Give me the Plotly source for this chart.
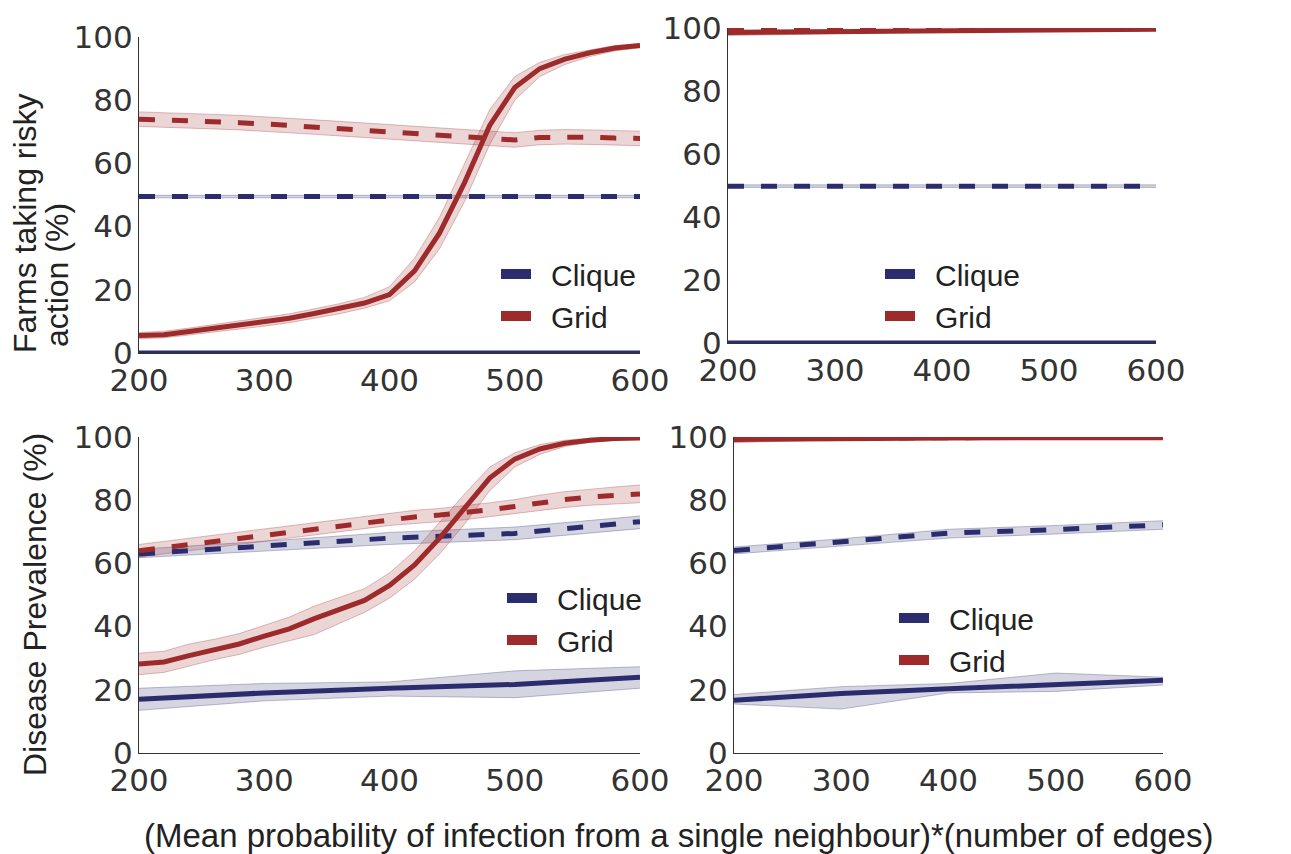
import plotly.graph_objects as go

# ---------------- data ----------------
X21 = [200, 220, 240, 260, 280, 300, 320, 340, 360, 380, 400,
       420, 440, 460, 480, 500, 520, 540, 560, 580, 600]
X5 = [200, 300, 400, 500, 600]

# Top-left: farms taking risky action
tl_grid_solid = [5.5, 5.8, 6.8, 7.8, 8.8, 9.8, 11, 12.5, 14, 15.8, 18.5, 26, 38, 54, 72, 84, 90, 93, 95, 96.5, 97.3]
tl_grid_solid_lo = [4.5, 4.8, 5.7, 6.6, 7.5, 8.5, 9.6, 11, 12.4, 14.2, 16.5, 22.5, 33, 48, 66, 80, 87.5, 91.3, 93.8, 95.6, 96.6]
tl_grid_solid_hi = [6.5, 6.9, 7.9, 9, 10, 11.1, 12.4, 14, 15.6, 17.6, 21, 30, 43, 60, 77, 87.5, 92, 94.5, 96, 97.3, 97.9]
tl_grid_dash = [74, 73.8, 73.5, 73.2, 72.9, 72.5, 72, 71.5, 71, 70.5, 70, 69.5, 69, 68.5, 68, 67.4, 68.2, 68.4, 68.3, 68, 67.9]
tl_grid_dash_lo = [71.7, 71.5, 71.2, 70.9, 70.6, 70.2, 69.7, 69.2, 68.7, 68.2, 67.7, 67.2, 66.7, 66.2, 65.7, 65.1, 65.9, 66.1, 66, 65.7, 65.6]
tl_grid_dash_hi = [76.3, 76.1, 75.8, 75.5, 75.2, 74.8, 74.3, 73.8, 73.3, 72.8, 72.3, 71.8, 71.3, 70.8, 70.3, 69.7, 70.5, 70.7, 70.6, 70.3, 70.2]
tl_clique_dash = [49.5, 49.5, 49.5, 49.5, 49.5]
tl_clique_dash_lo = [49.1, 49.1, 49.1, 49.1, 49.1]
tl_clique_dash_hi = [49.9, 49.9, 49.9, 49.9, 49.9]
tl_clique_solid = [0, 0, 0, 0, 0]

# Top-right
tr_grid_solid = [98.6, 98.9, 99.2, 99.4, 99.6]
tr_grid_solid_lo = [97.6, 98.3, 98.8, 99.1, 99.4]
tr_grid_solid_hi = [99.4, 99.5, 99.7, 99.8, 99.9]
tr_grid_dash = [99.2, 99.4, 99.6, 99.7, 99.8]
tr_clique_dash = [49.8, 49.8, 49.8, 49.8, 49.8]
tr_clique_dash_lo = [49.4, 49.4, 49.4, 49.4, 49.4]
tr_clique_dash_hi = [50.2, 50.2, 50.2, 50.2, 50.2]
tr_clique_solid = [0, 0, 0, 0, 0]

# Bottom-left: disease prevalence
bl_grid_solid = [28.2, 28.8, 30.8, 32.8, 34.5, 37, 39.3, 42.5, 45.3, 48.3, 53, 59.5, 68, 77.5, 87, 93, 96.2, 98, 99, 99.5, 99.7]
bl_grid_solid_lo = [24.8, 25.5, 27.5, 29.5, 31.2, 33.5, 35.5, 37.5, 41, 44.5, 49, 55, 63, 72.5, 83, 90.5, 94.5, 97, 98.3, 99, 99.3]
bl_grid_solid_hi = [31.6, 32.2, 34.5, 36, 37.8, 40.5, 43, 46.5, 49.3, 52, 57, 64, 73, 82, 90.5, 95, 97.6, 99, 99.6, 99.9, 100]
bl_grid_dash = [64, 65, 66, 67, 68, 69, 70, 71, 72, 73, 74, 74.7, 75.3, 76, 77, 78, 79.2, 80.2, 81, 81.5, 82]
bl_grid_dash_lo = [62, 63, 64, 65, 66, 67, 68, 69, 70, 71, 72, 72.6, 73.2, 73.8, 74.8, 75.8, 76.8, 77.7, 78.4, 78.8, 79.2]
bl_grid_dash_hi = [66, 67, 68, 69, 70, 71, 72, 73, 74, 75, 76, 76.8, 77.4, 78.2, 79.2, 80.2, 81.6, 82.7, 83.5, 84.2, 84.8]
bl_clique_dash = [63, 65.5, 68, 69.5, 73.2]
bl_clique_dash_lo = [61.8, 64, 66, 67.5, 71]
bl_clique_dash_hi = [64.5, 67, 69.8, 71.5, 75]
bl_clique_solid = [17, 19, 20.5, 21.7, 24]
bl_clique_solid_lo = [13.5, 16.5, 18, 17.5, 20.5]
bl_clique_solid_hi = [20.5, 22, 22.5, 26, 27.3]

# Bottom-right
br_grid_solid = [99.2, 99.6, 99.7, 99.8, 99.8]
br_grid_solid_lo = [98.2, 99.2, 99.4, 99.5, 99.6]
br_grid_solid_hi = [99.9, 100, 100, 100, 100]
br_grid_dash = [99.5, 99.7, 99.8, 99.9, 99.9]
br_clique_dash = [64.1, 66.7, 69.6, 70.7, 72.2]
br_clique_dash_lo = [63, 65.5, 68, 69.3, 70.8]
br_clique_dash_hi = [65.2, 67.8, 70.8, 72, 73.5]
br_clique_solid = [16.7, 18.8, 20.3, 21.6, 23]
br_clique_solid_lo = [15.5, 13.9, 19, 19.5, 21.5]
br_clique_solid_hi = [18.5, 21, 22, 25.3, 24]

x_ticks = [200, 300, 400, 500, 600]
y_ticks = [0, 20, 40, 60, 80, 100]
series_names = ["Clique", "Grid"]

# ---------------- style ----------------
NAVY = "#2b2c6e"
RED = "#9e2b2b"
NAVY_FILL = "rgba(43,44,110,0.2)"
RED_FILL = "rgba(158,43,43,0.2)"
NAVY_EDGE = "rgba(43,44,110,0.3)"
RED_EDGE = "rgba(158,43,43,0.3)"
LW = 5
DASH = "16px,17px"

W, H = 1291, 854
OFF = 8  # page body margin in the browser


def fx(px):
    return (px - OFF) / W


def fy(py):
    return 1 - (py - OFF) / H


fig = go.Figure()


def band(x, lo, hi, fill, edge, xa, ya):
    fig.add_trace(go.Scatter(x=x, y=lo, mode="lines", line=dict(color=edge, width=1),
                             xaxis=xa, yaxis=ya, showlegend=False, hoverinfo="skip"))
    fig.add_trace(go.Scatter(x=x, y=hi, mode="lines", line=dict(color=edge, width=1),
                             fill="tonexty", fillcolor=fill,
                             xaxis=xa, yaxis=ya, showlegend=False, hoverinfo="skip"))


def line(x, y, color, dash, xa, ya):
    fig.add_trace(go.Scatter(x=x, y=y, mode="lines",
                             line=dict(color=color, width=LW, dash=dash),
                             xaxis=xa, yaxis=ya, showlegend=False))


panels = [
    dict(xa="x", ya="y", lg="legend",
         bands=[(X5, tl_clique_dash_lo, tl_clique_dash_hi, "n"),
                (X21, tl_grid_dash_lo, tl_grid_dash_hi, "r"),
                (X21, tl_grid_solid_lo, tl_grid_solid_hi, "r")],
         lines=[(X5, tl_clique_dash, "n", "d"), (X5, tl_clique_solid, "n", "s"),
                (X21, tl_grid_dash, "r", "d"), (X21, tl_grid_solid, "r", "s")]),
    dict(xa="x2", ya="y2", lg="legend2",
         bands=[(X5, tr_clique_dash_lo, tr_clique_dash_hi, "n"),
                (X5, tr_grid_solid_lo, tr_grid_solid_hi, "r")],
         lines=[(X5, tr_clique_dash, "n", "d"), (X5, tr_clique_solid, "n", "s"),
                (X5, tr_grid_dash, "r", "d"), (X5, tr_grid_solid, "r", "s")]),
    dict(xa="x3", ya="y3", lg="legend3",
         bands=[(X5, bl_clique_dash_lo, bl_clique_dash_hi, "n"),
                (X5, bl_clique_solid_lo, bl_clique_solid_hi, "n"),
                (X21, bl_grid_dash_lo, bl_grid_dash_hi, "r"),
                (X21, bl_grid_solid_lo, bl_grid_solid_hi, "r")],
         lines=[(X5, bl_clique_dash, "n", "d"), (X5, bl_clique_solid, "n", "s"),
                (X21, bl_grid_dash, "r", "d"), (X21, bl_grid_solid, "r", "s")]),
    dict(xa="x4", ya="y4", lg="legend4",
         bands=[(X5, br_clique_dash_lo, br_clique_dash_hi, "n"),
                (X5, br_clique_solid_lo, br_clique_solid_hi, "n"),
                (X5, br_grid_solid_lo, br_grid_solid_hi, "r")],
         lines=[(X5, br_clique_dash, "n", "d"), (X5, br_clique_solid, "n", "s"),
                (X5, br_grid_dash, "r", "d"), (X5, br_grid_solid, "r", "s")]),
]

for p in panels:
    for bx, lo, hi, c in p["bands"]:
        band(bx, lo, hi, NAVY_FILL if c == "n" else RED_FILL,
             NAVY_EDGE if c == "n" else RED_EDGE, p["xa"], p["ya"])
    for lx, ly, c, d in p["lines"]:
        line(lx, ly, NAVY if c == "n" else RED, DASH if d == "d" else "solid", p["xa"], p["ya"])
    # legend entries (en space gives the gap between key and label)
    for nm, col in zip(series_names, [NAVY, RED]):
        fig.add_trace(go.Scatter(x=[None], y=[None], mode="lines", name="\u2002" + nm,
                                 line=dict(color=col, width=10),
                                 legend=p["lg"], legendgroup=p["lg"] + nm,
                                 xaxis=p["xa"], yaxis=p["ya"], showlegend=True))

# pixel geometry of panels in the reference: (left, right, top(100), bottom(0))
geom = {
    "1": (139, 640, 37, 353),
    "2": (728, 1156, 28, 343),
    "3": (139, 640, 437, 753),
    "4": (734, 1163, 437, 753),
}

tickfont = dict(family="DejaVu Sans", size=31, color="#333333")
axis_common = dict(showline=True, linecolor="#333333", linewidth=1.3, ticks="",
                   showgrid=False, zeroline=False, tickfont=tickfont, automargin=False)

layout = dict(width=W, height=H, margin=dict(l=0, r=0, t=0, b=0, autoexpand=False),
              paper_bgcolor="white", plot_bgcolor="white", showlegend=True)
for k, (l, r, t, b) in geom.items():
    sx = "" if k == "1" else k
    layout["xaxis" + sx] = dict(domain=[fx(l), fx(r)], range=[200, 600], tickvals=x_ticks,
                                anchor="y" + sx, ticklabelstandoff=0, **axis_common)
    layout["yaxis" + sx] = dict(domain=[fy(b), fy(t)], range=[0, 100], tickvals=y_ticks,
                                anchor="x" + sx, ticklabelstandoff=-1, **axis_common)

legfont = dict(family="Liberation Sans, Arial, sans-serif", size=30, color="#222222")
leg_pos = {"legend": (496, 248), "legend2": (880, 248), "legend3": (502, 572), "legend4": (894, 592)}
for lg, (px, py) in leg_pos.items():
    layout[lg] = dict(x=fx(px), y=fy(py), xanchor="left", yanchor="top",
                      font=legfont, bgcolor="rgba(0,0,0,0)", itemwidth=30,
                      tracegroupgap=0, borderwidth=0)

fig.update_layout(**layout)

title_font = dict(family="Liberation Sans, Arial, sans-serif", size=32, color="#222222")
fig.add_annotation(text="Farms taking risky", x=fx(25), y=fy(223),
                   xref="paper", yref="paper", showarrow=False, textangle=-90,
                   font=title_font, xanchor="center", yanchor="middle")
fig.add_annotation(text="action (%)", x=fx(57), y=fy(275),
                   xref="paper", yref="paper", showarrow=False, textangle=-90,
                   font=title_font, xanchor="center", yanchor="middle")
fig.add_annotation(text="Disease Prevalence (%)", x=fx(35), y=fy(605),
                   xref="paper", yref="paper", showarrow=False, textangle=-90,
                   font=title_font, xanchor="center", yanchor="middle")
fig.add_annotation(text="(Mean probability of infection from a single neighbour)*(number of edges)",
                   x=fx(678), y=fy(835), xref="paper", yref="paper", showarrow=False,
                   font=dict(family="Liberation Sans, Arial, sans-serif", size=33, color="#222222"),
                   xanchor="center", yanchor="middle")

fig.write_html("out.html")
